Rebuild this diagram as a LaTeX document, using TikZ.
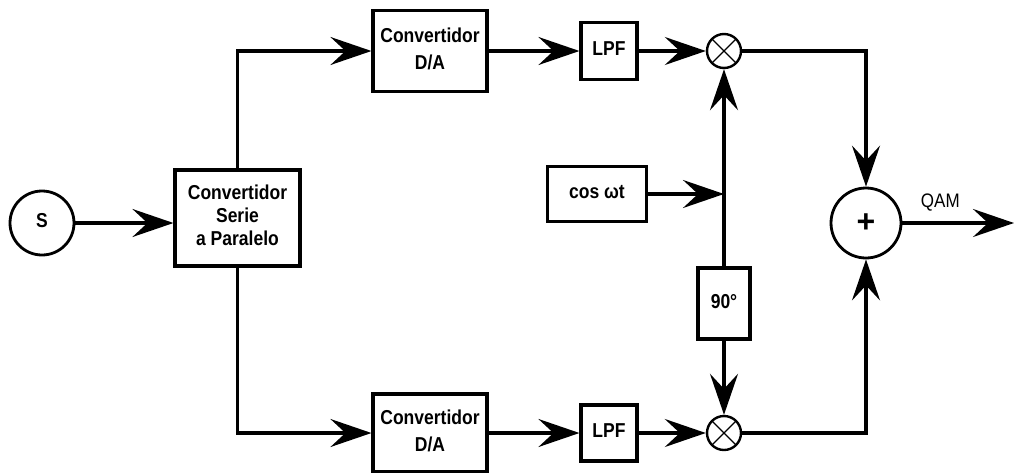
\documentclass[tikz,border=0pt]{standalone}
\usepackage{fontspec}
\usepackage{graphicx}
\setmainfont{Liberation Sans}
\usetikzlibrary{arrows.meta}
\newcommand{\vtext}[1]{\scalebox{1}[1.15]{\begin{tabular}{@{}c@{}}#1\end{tabular}}}
\begin{document}
\begin{tikzpicture}[x=1pt,y=-1pt, line width=3.1pt,
  arr/.style={-{Stealth[length=41pt,width=28pt,inset=15pt]}},
  blk/.style={draw, line width=3.1pt, align=center, inner sep=0pt,
    font=\bfseries\fontsize{17.5}{20}\selectfont},
  mix/.style={draw, circle, minimum size=34pt, inner sep=0pt, line width=2.4pt,
    path picture={\draw[line width=1.1pt]
      (path picture bounding box.north west) -- (path picture bounding box.south east)
      (path picture bounding box.north east) -- (path picture bounding box.south west);}}]
\useasboundingbox (0,0) rectangle (1017,472);
% nodes
\node[draw, circle, minimum width=60pt, minimum height=64pt, inner sep=0pt, line width=2.8pt,
  font=\bfseries\fontsize{17.5}{20}\selectfont] (s) at (42,223) {\vtext{S}};
\node[blk, minimum width=125pt, minimum height=96pt] (sp) at (237.5,218) {\vtext{Convertidor\\Serie\\a Paralelo}};
\node[blk, minimum width=114pt, minimum height=81pt, font=\bfseries\fontsize{17.5}{23.5}\selectfont] (da1) at (430,51) {\vtext{Convertidor\\D/A}};
\node[blk, minimum width=56pt, minimum height=57pt] (lpf1) at (609,51) {\vtext{LPF}};
\node[mix] (m1) at (724,51) {};
\node[blk, minimum width=114pt, minimum height=78pt, font=\bfseries\fontsize{17.5}{23.5}\selectfont] (da2) at (430,433) {\vtext{Convertidor\\D/A}};
\node[blk, minimum width=56pt, minimum height=56pt] (lpf2) at (609,433) {\vtext{LPF}};
\node[mix] (m2) at (724,433) {};
\node[blk, minimum width=99pt, minimum height=55pt] (cos) at (597,194) {\vtext{cos ωt}};
\node[blk, minimum width=52pt, minimum height=71pt] (ph) at (724,303.5) {\vtext{90°}};
\node[draw, circle, minimum size=70pt, inner sep=0pt, line width=2.8pt,
  font=\bfseries\fontsize{32}{32}\selectfont] (sum) at (866,223) {+};
\coordinate (j) at (ph.north |- cos.east);
\coordinate (out) at (1014,223);
% connectors
\draw[arr] (s) -- (s -| sp.west);
\draw[arr] (sp.north) |- (da1.west);
\draw[arr] (sp.south) |- (da2.west);
\draw[arr] (da1) -- (lpf1);
\draw[arr] (lpf1) -- (m1);
\draw[arr] (da2) -- (lpf2);
\draw[arr] (lpf2) -- (m2);
\draw[arr] (cos) -- (j);
\draw[arr] (ph) -- (m1);
\draw[arr] (ph) -- (m2);
\draw[arr] (m1) -| (sum);
\draw[arr] (m2) -| (sum);
\draw[arr] (sum) -- (out) node[pos=0.34, above=4pt, font=\fontsize{17}{20}\selectfont] {\vtext{QAM}};
\end{tikzpicture}
\end{document}
